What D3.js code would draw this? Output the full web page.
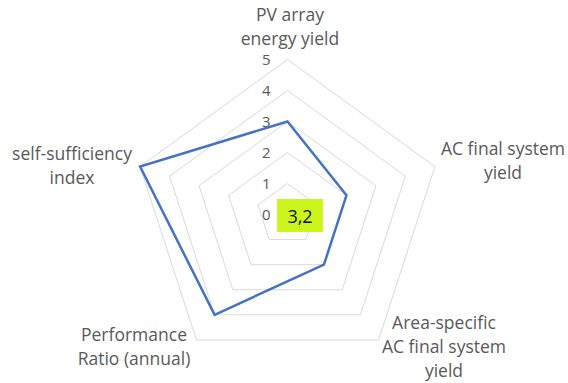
<!DOCTYPE html>
<meta charset="utf-8">
<head>
<script src="https://d3js.org/d3.v7.min.js"></script>
<style>
  body { margin: 0; background: #fff; }
  text { font-family: "Open Sans", Lato, sans-serif; }
</style>
</head>
<body>
<svg id="radar" width="568" height="383"></svg>
<script>
// categories, clockwise from top
var categories = [
    ["PV array", "energy yield"],
    ["AC final system", "yield"],
    ["Area-specific", "AC final system", "yield"],
    ["Performance", "Ratio (annual)"],
    ["self-sufficiency", "index"]
];
var values = [3, 2, 2, 4, 5];
var ticks = [0, 1, 2, 3, 4, 5];
var centerLabel = "3,2";

var svg = d3.select("#radar");
var cx = 287.5, cy = 214.5;
var r = d3.scaleLinear().domain([0, 5]).range([0, 155]);
var angle = d3.scaleLinear().domain([0, categories.length]).range([0, 2 * Math.PI]);

var g = svg.append("g").attr("transform", "translate(" + cx + "," + cy + ")");

// grid pentagons
var ring = d3.lineRadial()
    .angle(function(d, i){ return angle(i); })
    .radius(function(d){ return r(d); })
    .curve(d3.curveLinearClosed);

g.selectAll(".grid").data(ticks.slice(1)).enter()
    .append("path")
    .attr("class", "grid")
    .attr("d", function(t){ return ring(categories.map(function(){ return t; })); })
    .attr("fill", "none")
    .attr("stroke", "#d9d9d9")
    .attr("stroke-width", 1);

// tick labels
g.selectAll(".tick").data(ticks).enter()
    .append("text")
    .attr("x", -17)
    .attr("y", function(t){ return -r(t) + 5.5; })
    .attr("text-anchor", "end")
    .attr("font-size", 15)
    .attr("fill", "#595959")
    .text(function(t){ return t; });

// data line
g.append("path")
    .attr("d", ring(values))
    .attr("fill", "none")
    .attr("stroke", "#4472c4")
    .attr("stroke-width", 2.5)
    .attr("stroke-linejoin", "miter");

// category labels
var labelPos = [
    {x: 290, y: 21},
    {x: 503, y: 155},
    {x: 444, y: 329},
    {x: 134, y: 341},
    {x: 72, y: 160}
];
categories.forEach(function(lines, i){
    var t = svg.append("text")
        .attr("text-anchor", "middle")
        .attr("font-size", 17.5)
        .attr("fill", "#595959");
    lines.forEach(function(s, j){
        t.append("tspan")
            .attr("x", labelPos[i].x)
            .attr("y", labelPos[i].y + j * 24)
            .text(s);
    });
});

// highlighted value box
svg.append("rect")
    .attr("x", 277).attr("y", 199)
    .attr("width", 46).attr("height", 33)
    .attr("fill", "#ccf51e");
svg.append("text")
    .attr("x", 300).attr("y", 222.5)
    .attr("text-anchor", "middle")
    .attr("font-size", 18)
    .attr("fill", "#111")
    .text(centerLabel);
</script>
</body>
